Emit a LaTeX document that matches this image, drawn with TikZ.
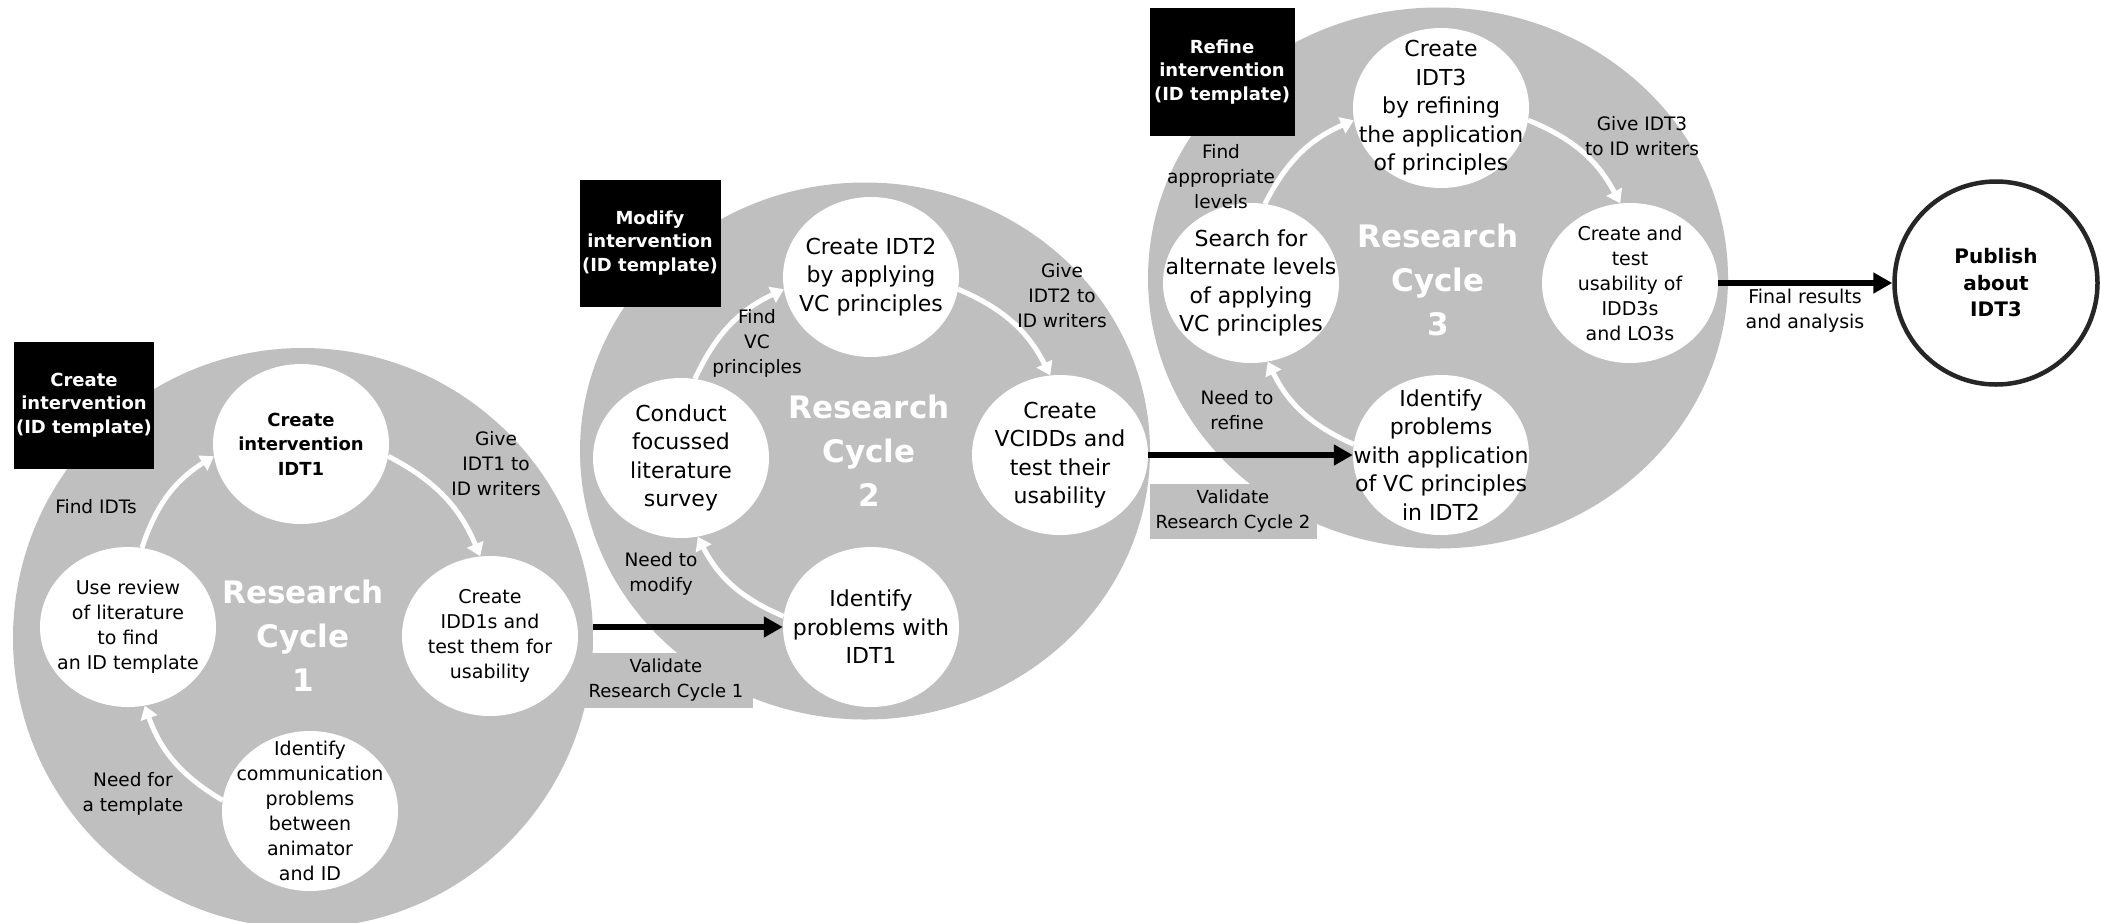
\documentclass[tikz,border=0pt]{standalone}
\usepackage{fontspec}
\setmainfont{DejaVu Sans}
\usetikzlibrary{shapes.geometric,arrows.meta}
\definecolor{cycfill}{RGB}{191,191,191}

\tikzset{
  cycdisc/.style={ellipse, fill=cycfill, inner sep=0pt},
  stage/.style={ellipse, fill=white, inner sep=0pt, minimum width=176pt, minimum height=160pt},
  stagetext/.style={align=center, inner sep=0pt, font=\fontsize{19}{25}\selectfont},
  stagebig/.style={align=center, inner sep=0pt, font=\fontsize{22}{28.5}\selectfont},
  stagebold/.style={align=center, inner sep=0pt, font=\bfseries\fontsize{18}{24.5}\selectfont},
  tagbox/.style={fill=black, text=white, align=center, inner sep=0pt, font=\bfseries\fontsize{18}{23.5}\selectfont},
  cyctitle/.style={text=white, align=center, inner sep=0pt, font=\bfseries\fontsize{31}{44}\selectfont},
  flowlabel/.style={align=center, inner sep=0pt, font=\fontsize{18.5}{25}\selectfont},
  gatebox/.style={fill=cycfill, align=center, inner sep=0pt, font=\fontsize{18}{25}\selectfont},
  flow/.style={draw=white, line width=5pt, -{Triangle[length=13pt,width=17pt]}},
  handoff/.style={draw=black, line width=6.5pt, -{Triangle[length=19pt,width=20pt]}},
  finish/.style={circle, draw=black!85, line width=4.5pt, fill=white, minimum size=203pt, inner sep=0pt, align=center, font=\bfseries\fontsize{20}{26.5}\selectfont},
}

\begin{document}
\begin{tikzpicture}[x=1pt,y=-1pt]
\useasboundingbox[fill=white] (0,0) rectangle (2101,922);

% the three grey research cycles
\node[cycdisc, minimum width=580pt, minimum height=580pt] (cyc1) at (303,638) {};
\node[cycdisc, minimum width=570pt, minimum height=537pt] (cyc2) at (865,451) {};
\node[cycdisc, minimum width=580pt, minimum height=541pt] (cyc3) at (1438,278) {};

% validation labels on grey tabs
\node[gatebox, minimum width=173pt, minimum height=55pt] (gate1) at (666,680) {Validate\\Research Cycle 1};
\node[gatebox, minimum width=167pt, minimum height=55pt] (gate2) at (1233,511) {Validate\\Research Cycle 2};

% black intervention tags
\node[tagbox, minimum width=140pt, minimum height=127pt] (tag1) at (84,405) {Create\\intervention\\(ID template)};
\node[tagbox, minimum width=141pt, minimum height=127pt] (tag2) at (650,243) {Modify\\intervention\\(ID template)};
\node[tagbox, minimum width=145pt, minimum height=128pt] (tag3) at (1222,72) {Refine\\intervention\\(ID template)};

% cycle titles
\node[cyctitle] (title1) at (303,636) {Research\\Cycle\\1};
\node[cyctitle] (title2) at (869,451) {Research\\Cycle\\2};
\node[cyctitle] (title3) at (1438,280) {Research\\Cycle\\3};

% cycle 1 stages
\node[stage] (t1) at (301,444) {};
\node[stage] (r1) at (490,636) {};
\node[stage] (b1) at (310,811) {};
\node[stage] (l1) at (128,627) {};
\node[stagebold] (t1t) at (t1) {Create\\intervention\\IDT1};
\node[stagetext] (r1t) at (r1) {Create\\IDD1s and\\test them for\\usability};
\node[stagetext] (b1t) at (b1) {Identify\\communication\\problems\\between\\animator\\and ID};
\node[stagetext] (l1t) at (l1) {Use review\\of literature\\to find\\an ID template};

% cycle 2 stages
\node[stage] (t2) at (871,277) {};
\node[stage] (r2) at (1060,455) {};
\node[stage] (b2) at (871,627) {};
\node[stage] (l2) at (681,458) {};
\node[stagebig] (t2t) at (t2) {Create IDT2\\by applying\\VC principles};
\node[stagebig] (r2t) at (r2) {Create\\VCIDDs and\\test their\\usability};
\node[stagebig] (b2t) at (b2) {Identify\\problems with\\IDT1};
\node[stagebig] (l2t) at (l2) {Conduct\\focussed\\literature\\survey};

% cycle 3 stages
\node[stage] (t3) at (1441,108) {};
\node[stage] (r3) at (1630,283) {};
\node[stage] (b3) at (1441,455) {};
\node[stage] (l3) at (1251,283) {};
\node[stagebig] (t3t) at (t3) {Create\\IDT3\\by refining\\the application\\of principles};
\node[stagetext] (r3t) at (r3) {Create and\\test\\usability of\\IDD3s\\and LO3s};
\node[stagebig] (b3t) at (b3) {Identify\\problems\\with application\\of VC principles\\in IDT2};
\node[stagebig] (l3t) at (l3) {Search for\\alternate levels\\of applying\\VC principles};

% final publication
\node[finish] (pub) at (1996,283) {Publish\\about\\IDT3};

% flows inside each cycle
\draw[flow] (l1.80) to[bend left=20] (t1.188);
\draw[flow] (t1.-8) to[bend left=20] (r1.97);
\draw[flow] (b1.173) to[bend left=20] (l1.-78);
\draw[flow] (l2.80) to[bend left=20] (t2.188);
\draw[flow] (t2.-8) to[bend left=20] (r2.97);
\draw[flow] (b2.173) to[bend left=20] (l2.-78);
\draw[flow] (l3.80) to[bend left=20] (t3.188);
\draw[flow] (t3.-8) to[bend left=20] (r3.97);
\draw[flow] (b3.173) to[bend left=20] (l3.-78);

% hand-offs between cycles
\draw[handoff] (cyc1.east |- b2.west) -- (b2.west);
\draw[handoff] (r2.east |- b3.west) -- (b3.west);
\draw[handoff] (r3.east) -- (pub.west);

% flow labels
\node[flowlabel] (find1) at (96,507) {Find IDTs};
\node[flowlabel] (give1) at (496,464) {Give\\IDT1 to\\ID writers};
\node[flowlabel] (need1) at (133,794) {Need for\\a template};
\node[flowlabel] (find2) at (757,343) {Find\\VC\\principles};
\node[flowlabel] (give2) at (1062,296) {Give\\IDT2 to\\ID writers};
\node[flowlabel] (need2) at (661,574) {Need to\\modify};
\node[flowlabel] (find3) at (1221,177) {Find\\appropriate\\levels};
\node[flowlabel] (give3) at (1642,136) {Give IDT3\\to ID writers};
\node[flowlabel] (need3) at (1237,410) {Need to\\refine};
\node[flowlabel, font=\fontsize{19}{25}\selectfont] (finlab) at (1805,311) {Final results\\and analysis};
\end{tikzpicture}
\end{document}
